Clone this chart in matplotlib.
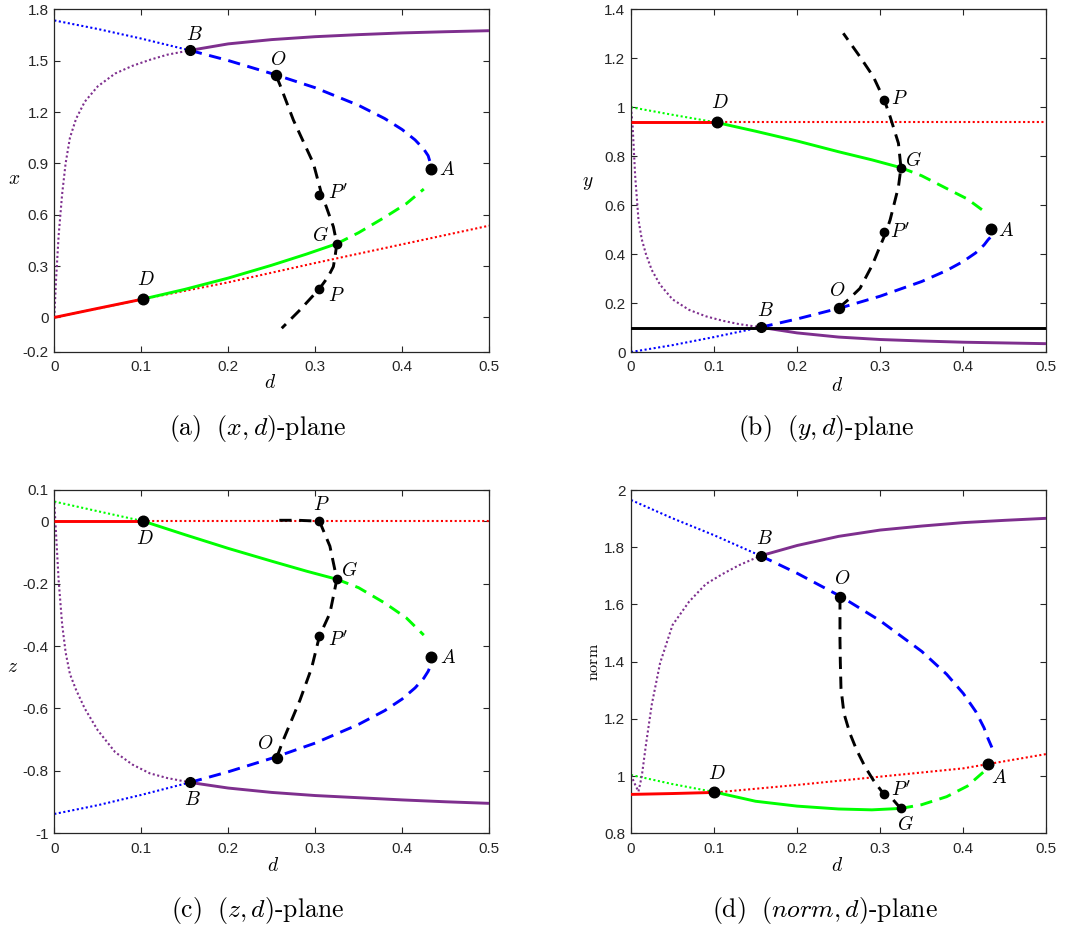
import matplotlib
matplotlib.use("Agg")
import matplotlib.pyplot as plt

plt.rcParams["mathtext.fontset"] = "cm"
plt.rcParams["axes.unicode_minus"] = False
plt.rcParams["font.family"] = ["Liberation Sans", "DejaVu Sans"]

W, H = 1087, 931

# ---- branch parameter grids -------------------------------------------
d_red = [0.0, 0.05, 0.1025, 0.2, 0.3, 0.4, 0.5]
red_x = [0.0, 0.053, 0.108, 0.205, 0.318, 0.427, 0.536]
red_y = [0.938, 0.938, 0.938, 0.938, 0.938, 0.938, 0.938]
red_z = [0.0, 0.0, 0.0, 0.0, 0.0, 0.0, 0.0]
red_norm = [0.936, 0.939, 0.943, 0.969, 0.998, 1.027, 1.077]

d_green = [0.0, 0.05, 0.1025, 0.15, 0.2, 0.25, 0.29, 0.325, 0.35, 0.38, 0.405, 0.425]
green_x = [0.0, 0.052, 0.108, 0.164, 0.230, 0.305, 0.37, 0.431, 0.495, 0.585, 0.665, 0.75]
green_y = [1.0, 0.969, 0.938, 0.902, 0.862, 0.818, 0.785, 0.753, 0.72, 0.668, 0.625, 0.575]
green_z = [0.063, 0.032, 0.0, -0.043, -0.087, -0.128, -0.160, -0.186, -0.213, -0.262, -0.31, -0.365]
green_norm = [1.004, 0.972, 0.943, 0.912, 0.895, 0.885, 0.882, 0.887, 0.900, 0.928, 0.965, 1.016]

d_blue = [0.0, 0.05, 0.1, 0.156, 0.2, 0.253, 0.3, 0.35, 0.38, 0.4, 0.415, 0.425, 0.43, 0.4345]
blue_x = [1.735, 1.685, 1.629, 1.56, 1.501, 1.42, 1.342, 1.239, 1.162, 1.098, 1.037, 0.983, 0.945, 0.87]
blue_y = [0.0, 0.028, 0.061, 0.101, 0.135, 0.181, 0.228, 0.288, 0.333, 0.370, 0.405, 0.437, 0.459, 0.475]
blue_z = [-0.938, -0.910, -0.877, -0.837, -0.803, -0.757, -0.711, -0.651, -0.607, -0.570,
          -0.534, -0.503, -0.481, -0.452]
blue_norm = [1.965, 1.901, 1.842, 1.770, 1.709, 1.627, 1.543, 1.436, 1.356, 1.289,
             1.226, 1.169, 1.13, 1.10]

d_purple = [0.0, 0.002, 0.005, 0.009, 0.013, 0.018, 0.025, 0.035, 0.05, 0.07, 0.09, 0.11, 0.13,
            0.156, 0.2, 0.25, 0.3, 0.35, 0.4, 0.45, 0.5]
purple_x = [0.0, 0.22, 0.48, 0.72, 0.9, 1.05, 1.16, 1.26, 1.35, 1.425, 1.47, 1.505, 1.535,
            1.56, 1.598, 1.623, 1.64, 1.652, 1.662, 1.669, 1.675]
purple_y = [1.0, 0.92, 0.72, 0.54, 0.46, 0.40, 0.335, 0.275, 0.215, 0.172, 0.146, 0.128, 0.114,
            0.101, 0.078, 0.061, 0.051, 0.045, 0.04, 0.037, 0.034]
purple_z = [0.06, -0.04, -0.19, -0.33, -0.42, -0.49, -0.54, -0.60, -0.67, -0.74, -0.78, -0.808, -0.823,
            -0.837, -0.855, -0.869, -0.879, -0.886, -0.893, -0.899, -0.904]
purple_norm = [1.004, 0.99, 0.97, 0.946, 1.0, 1.11, 1.25, 1.395, 1.528, 1.61, 1.671, 1.706, 1.737,
               1.77, 1.806, 1.838, 1.86, 1.874, 1.886, 1.894, 1.901]
PURPLE_SPLIT = 13  # index of B on the purple branch

# periodic branch from O, one list pair per projection
black_d_x = [0.255, 0.2596, 0.275, 0.298, 0.308, 0.3114, 0.321, 0.325,
             0.3229, 0.321, 0.315, 0.305, 0.2826, 0.2616]
black_x = [1.4145, 1.358, 1.153, 0.9, 0.71, 0.667, 0.53, 0.431,
           0.355, 0.297, 0.238, 0.168, 0.044, -0.063]
black_d_y = [0.2504, 0.262, 0.2757, 0.2905, 0.299, 0.307, 0.312, 0.322, 0.325,
             0.322, 0.312, 0.305, 0.2917, 0.2757, 0.2556]
black_y = [0.181, 0.215, 0.26, 0.355, 0.425, 0.489, 0.54, 0.675, 0.753,
           0.8525, 0.961, 1.029, 1.125, 1.206, 1.302]
black_d_z = [0.2558, 0.2634, 0.2826, 0.296, 0.305, 0.317, 0.325, 0.317, 0.305, 0.28, 0.2558]
black_z = [-0.7575, -0.701, -0.573, -0.47, -0.368, -0.295, -0.186, -0.08, 0.0, 0.003, 0.003]
black_d_norm = [0.2516, 0.2516, 0.252, 0.2528, 0.2564, 0.2636, 0.2717, 0.2817, 0.2917,
                0.3038, 0.3158, 0.3246]
black_norm = [1.625, 1.476, 1.40, 1.307, 1.219, 1.149, 1.091, 1.033, 0.986,
              0.939, 0.9165, 0.887]

y_level = 0.1

# ---- labelled points ---------------------------------------------------
pt_names_a = ["B", "O", "A", "P'", "G", "P", "D"]
pt_d_a = [0.156, 0.2554, 0.4333, 0.3048, 0.3248, 0.3048, 0.1024]
pt_v_a = [1.56, 1.4145, 0.867, 0.7135, 0.431, 0.168, 0.108]

pt_names_b = ["D", "P", "G", "A", "P'", "O", "B"]
pt_d_b = [0.1032, 0.305, 0.3247, 0.433, 0.305, 0.2504, 0.156]
pt_v_b = [0.938, 1.029, 0.753, 0.501, 0.489, 0.181, 0.1009]

pt_names_c = ["D", "P", "G", "P'", "A", "O", "B"]
pt_d_c = [0.1024, 0.305, 0.3248, 0.305, 0.4333, 0.2558, 0.156]
pt_v_c = [0.0, 0.0, -0.186, -0.368, -0.434, -0.7575, -0.837]

pt_names_d = ["B", "O", "A", "D", "P'", "G"]
pt_d_d = [0.1561, 0.2516, 0.430, 0.1003, 0.305, 0.3246]
pt_v_d = [1.7705, 1.625, 1.041, 0.943, 0.936, 0.887]

# label offsets (points) for each panel
off_a = [(3, 11), (1, 11), (11.5, -1), (13.5, 2), (-12, 6), (12, -5), (1.5, 14)]
off_b = [(2, 14), (11, 1), (9.5, 5), (11, -1), (11.5, 0), (-1.5, 12), (3.5, 12)]
off_c = [(1, -13), (1.5, 11.5), (9.5, 6.5), (13.5, -3), (12, -1), (-8.5, 9.5), (1.5, -13)]
off_d = [(3, 12), (1.5, 13.5), (8, -9.5), (1.5, 13.5), (12, 3.5), (3.5, -11.5)]

marker_size = {"A": 7.6, "D": 7.6, "O": 7.2, "B": 7.0, "G": 6.0, "P": 6.0, "P'": 6.0}

# ---- axis ticks ----------------------------------------------------------
xticks = [0, 0.1, 0.2, 0.3, 0.4, 0.5]
xtick_labels = ["0", "0.1", "0.2", "0.3", "0.4", "0.5"]
yticks_a = [-0.2, 0, 0.3, 0.6, 0.9, 1.2, 1.5, 1.8]
ylabels_a = ["-0.2", "0", "0.3", "0.6", "0.9", "1.2", "1.5", "1.8"]
yticks_b = [0, 0.2, 0.4, 0.6, 0.8, 1.0, 1.2, 1.4]
ylabels_b = ["0", "0.2", "0.4", "0.6", "0.8", "1", "1.2", "1.4"]
yticks_c = [-1, -0.8, -0.6, -0.4, -0.2, 0, 0.1]
ylabels_c = ["-1", "-0.8", "-0.6", "-0.4", "-0.2", "0", "0.1"]
yticks_d = [0.8, 1.0, 1.2, 1.4, 1.6, 1.8, 2.0]
ylabels_d = ["0.8", "1", "1.2", "1.4", "1.6", "1.8", "2"]

RED, GREEN, BLUE, PURPLE, BLACK = "#ff0000", "#00ff00", "#0000ff", "#7e2f8e", "#000000"
AXC = "#262626"
DASH = (4.2, 2.6)

fig = plt.figure(figsize=(W / 100, H / 100), dpi=100)


def px_axes(l, t, r, b):
    return fig.add_axes([l / W, 1 - b / H, (r - l) / W, (b - t) / H])


def seg(ax, d, v, i0, i1, color, style):
    xs, ys = d[i0:i1 + 1], v[i0:i1 + 1]
    if style == "solid":
        ax.plot(xs, ys, color=color, lw=2.1, solid_capstyle="butt", zorder=3)
    elif style == "dashed":
        ax.plot(xs, ys, color=color, lw=2.1, dashes=DASH, zorder=4)
    else:
        ax.plot(xs, ys, color=color, lw=1.5, dashes=(1, 1.2), zorder=2)


def branches(ax, red, green, blue, purple):
    seg(ax, d_red, red, 0, 2, RED, "solid")
    seg(ax, d_red, red, 2, len(d_red) - 1, RED, "dotted")
    seg(ax, d_green, green, 0, 2, GREEN, "dotted")
    seg(ax, d_green, green, 2, 7, GREEN, "solid")
    seg(ax, d_green, green, 7, len(d_green) - 1, GREEN, "dashed")
    seg(ax, d_blue, blue, 0, 3, BLUE, "dotted")
    seg(ax, d_blue, blue, 3, len(d_blue) - 1, BLUE, "dashed")
    seg(ax, d_purple, purple, 0, PURPLE_SPLIT, PURPLE, "dotted")
    seg(ax, d_purple, purple, PURPLE_SPLIT, len(d_purple) - 1, PURPLE, "solid")


def points(ax, names, ds, vs, offs):
    for n, dd, vv, off in zip(names, ds, vs, offs):
        ax.plot(dd, vv, "o", color="k", ms=marker_size[n], zorder=6)
        lab = r"$P'$" if n == "P'" else r"$%s$" % n
        ax.annotate(lab, (dd, vv), xytext=off, textcoords="offset points",
                    ha="center", va="center", fontsize=14, zorder=7)


def style_axes(ax, ylim, yt, ytl):
    ax.set_xlim(0, 0.5)
    ax.set_ylim(*ylim)
    ax.set_xticks(xticks)
    ax.set_xticklabels(xtick_labels)
    ax.set_yticks(yt)
    ax.set_yticklabels(ytl)
    ax.tick_params(direction="in", length=4.5, width=0.8, colors=AXC,
                   labelsize=11, top=True, right=True)
    ax.tick_params(axis="x", pad=6)
    ax.tick_params(axis="y", pad=4)
    for s in ax.spines.values():
        s.set_color(AXC)
        s.set_linewidth(0.9)


def ftext(x, y, s, **kw):
    fig.text(x / W, 1 - y / H, s, ha="center", va="center", **kw)


# (a) x-projection
ax = px_axes(54.3, 9.3, 489, 351.7)
branches(ax, red_x, green_x, blue_x, purple_x)
ax.plot(black_d_x, black_x, color=BLACK, lw=2.1, dashes=DASH, zorder=5)
points(ax, pt_names_a, pt_d_a, pt_v_a, off_a)
style_axes(ax, (-0.2, 1.8), yticks_a, ylabels_a)

# (b) y-projection
ax = px_axes(631, 9.3, 1046.3, 352)
branches(ax, red_y, green_y, blue_y, purple_y)
ax.axhline(y_level, color=BLACK, lw=2.1, zorder=3)
ax.plot(black_d_y, black_y, color=BLACK, lw=2.1, dashes=DASH, zorder=5)
points(ax, pt_names_b, pt_d_b, pt_v_b, off_b)
style_axes(ax, (0, 1.4), yticks_b, ylabels_b)

# (c) z-projection
ax = px_axes(54.3, 490, 489, 833.3)
branches(ax, red_z, green_z, blue_z, purple_z)
ax.plot(black_d_z, black_z, color=BLACK, lw=2.1, dashes=DASH, zorder=5)
points(ax, pt_names_c, pt_d_c, pt_v_c, off_c)
style_axes(ax, (-1, 0.1), yticks_c, ylabels_c)

# (d) norm
ax = px_axes(631, 490, 1046.3, 833.3)
branches(ax, red_norm, green_norm, blue_norm, purple_norm)
ax.plot(black_d_norm, black_norm, color=BLACK, lw=2.1, dashes=DASH, zorder=5)
points(ax, pt_names_d, pt_d_d, pt_v_d, off_d)
style_axes(ax, (0.8, 2.0), yticks_d, ylabels_d)

# axis titles
ftext(270, 383, r"$d$", fontsize=14)
ftext(837, 386, r"$d$", fontsize=14)
ftext(273, 866, r"$d$", fontsize=14)
ftext(837, 866, r"$d$", fontsize=14)
ftext(14, 180, r"$x$", fontsize=14)
ftext(588, 183, r"$y$", fontsize=14)
ftext(13, 668, r"$z$", fontsize=14)
ftext(593, 662, r"$\mathrm{norm}$", fontsize=11.5, rotation=90)

# sub-figure captions
ftext(258, 429, r"$\mathrm{(a)}\ \ (x,d)\text{-plane}$", fontsize=18.5)
ftext(826, 429, r"$\mathrm{(b)}\ \ (y,d)\text{-plane}$", fontsize=18.5)
ftext(258, 910, r"$\mathrm{(c)}\ \ (z,d)\text{-plane}$", fontsize=18.5)
ftext(825, 910, r"$\mathrm{(d)}\ \ (norm,d)\text{-plane}$", fontsize=18.5)

fig.savefig("out.png", dpi=100)
